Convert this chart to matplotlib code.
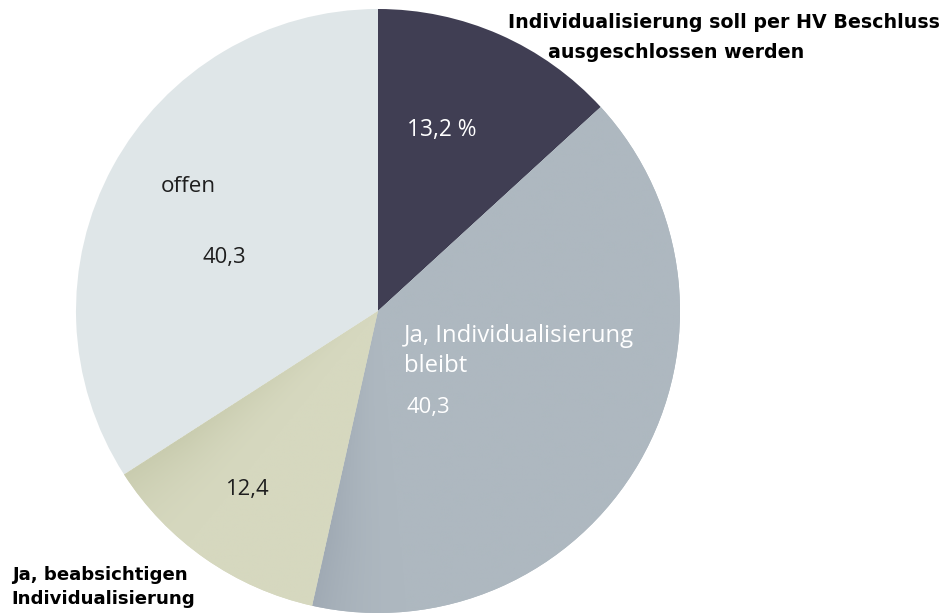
import matplotlib
matplotlib.use("Agg")
import matplotlib.pyplot as plt
import matplotlib.colors as mcolors
import numpy as np

# data
categories = ["Individualisierung soll per HV Beschluss ausgeschlossen werden",
              "Ja, Individualisierung bleibt",
              "Ja, beabsichtigen Individualisierung",
              "offen"]
shares = [13.2, 40.3, 12.4, 34.1]
value_labels = ["13,2 %", "40,3", "12,4", "40,3"]
colors = ["#403e53", "#aeb8c0", "#d6d8bf", "#dfe6e8"]
shade_colors = [None, "#a0aab4", "#c9ccaf", None]

W, H = 941, 613
fig = plt.figure(figsize=(W / 100, H / 100), dpi=100)
ax = fig.add_axes([0, 0, 1, 1])

cx, cy, r = 378, H - 311, 302
wedges, _ = ax.pie(shares, colors=colors, startangle=90, counterclock=False,
                   center=(cx, cy), radius=r, frame=True,
                   wedgeprops=dict(linewidth=0))
ax.set_xlim(0, W)
ax.set_ylim(0, H)
ax.set_aspect("equal")
ax.axis("off")

# subtle angular shading near the clockwise-end edge of some wedges
xs = np.linspace(cx - r, cx + r, 500)
ys = np.linspace(cy - r, cy + r, 500)
XX, YY = np.meshgrid(xs, ys)
ang = np.degrees(np.arctan2(YY - cy, XX - cx))
rad = np.hypot(XX - cx, YY - cy) / r
for w, base, shade in zip(wedges, colors, shade_colors):
    if shade is None:
        continue
    t2 = w.theta1  # clockwise end (smaller angle)
    d = (ang - t2) % 360
    f = np.clip(1 - d / 18.0, 0, 1) ** 2 * np.clip(rad * 1.3, 0, 1)
    b = np.array(mcolors.to_rgb(base))
    s = np.array(mcolors.to_rgb(shade))
    img = b[None, None, :] * (1 - f[..., None]) + s[None, None, :] * f[..., None]
    im = ax.imshow(img, extent=(cx - r, cx + r, cy - r, cy + r), origin="lower",
                   interpolation="bilinear", zorder=w.get_zorder() + 0.1)
    im.set_clip_path(w)
ax.set_xlim(0, W)
ax.set_ylim(0, H)


def px(x, y):
    return x, H - y

f_in = "Open Sans"
ax.text(*px(442, 130), value_labels[0], color="white", fontsize=16.4, family=f_in,
        ha="center", va="center", zorder=5)
ax.text(*px(404, 336), "Ja, Individualisierung", color="white", fontsize=17.2,
        family=f_in, ha="left", va="center", zorder=5)
ax.text(*px(404, 366), "bleibt", color="white", fontsize=17.2, family=f_in,
        ha="left", va="center", zorder=5)
ax.text(*px(407, 408), value_labels[1], color="white", fontsize=15.8, family=f_in,
        ha="left", va="center", zorder=5)
ax.text(*px(247, 489), value_labels[2], color="#1e1e1e", fontsize=15.8, family=f_in,
        ha="center", va="center", zorder=5)
ax.text(*px(161, 187), "offen", color="#1e1e1e", fontsize=16.2, family=f_in,
        ha="left", va="center", zorder=5)
ax.text(*px(224, 257), value_labels[3], color="#1e1e1e", fontsize=15.8, family=f_in,
        ha="center", va="center", zorder=5)

f_out = "DejaVu Sans"
ax.text(*px(508, 23), "Individualisierung soll per HV Beschluss", color="black",
        fontsize=13.65, family=f_out, fontweight="bold", ha="left", va="center", zorder=5)
ax.text(*px(548, 53), "ausgeschlossen werden", color="black",
        fontsize=13.65, family=f_out, fontweight="bold", ha="left", va="center", zorder=5)
ax.text(*px(12, 575), "Ja, beabsichtigen", color="black",
        fontsize=13.1, family=f_out, fontweight="bold", ha="left", va="center", zorder=5)
ax.text(*px(11, 599), "Individualisierung", color="black",
        fontsize=13.1, family=f_out, fontweight="bold", ha="left", va="center", zorder=5)

fig.savefig("out.png", dpi=100, facecolor="white")
